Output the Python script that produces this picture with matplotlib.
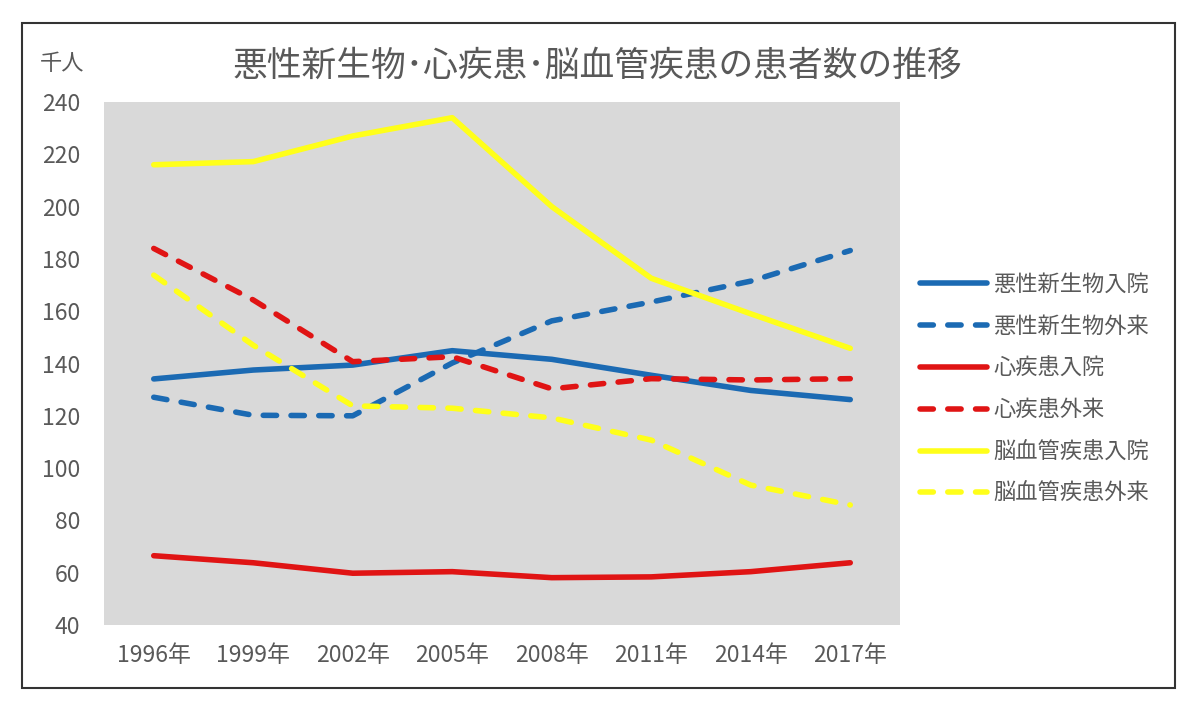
import matplotlib
matplotlib.use("Agg")
import matplotlib.pyplot as plt
from matplotlib.patches import Rectangle

plt.rcParams['font.family'] = ['Noto Sans CJK JP', 'DejaVu Sans']

years = ['1996年', '1999年', '2002年', '2005年', '2008年', '2011年', '2014年', '2017年']

cancer_in = [134.1, 137.5, 139.4, 144.9, 141.6, 135.5, 129.7, 126.2]
cancer_out = [127.1, 120.2, 120.0, 140.2, 156.3, 163.5, 171.5, 183.2]
heart_in = [66.5, 63.8, 59.8, 60.4, 58.1, 58.4, 60.4, 63.8]
heart_out = [184.0, 164.3, 140.7, 142.6, 130.3, 134.2, 133.7, 134.2]
stroke_in = [216.0, 217.2, 227.0, 234.0, 200.0, 172.6, 159.0, 145.8]
stroke_out = [173.8, 147.0, 123.8, 122.9, 119.2, 110.7, 93.5, 85.9]

blue = '#1B6AB3'
red = '#E01414'
yellow = '#FFFF1A'
txt = '#595959'

series = [
    ('悪性新生物入院', cancer_in, blue, '-'),
    ('悪性新生物外来', cancer_out, blue, '--'),
    ('心疾患入院', heart_in, red, '-'),
    ('心疾患外来', heart_out, red, '--'),
    ('脳血管疾患入院', stroke_in, yellow, '-'),
    ('脳血管疾患外来', stroke_out, yellow, '--'),
]

fig = plt.figure(figsize=(12, 7.15), dpi=100)
ax = fig.add_axes([104/1200, 90/715, 796/1200, 523/715])
ax.set_facecolor('#D9D9D9')

x = range(len(years))
for label, vals, col, ls in series:
    if ls == '-':
        ax.plot(x, vals, color=col, lw=4.0, solid_capstyle='round',
                solid_joinstyle='round', label=label)
    else:
        ax.plot(x, vals, color=col, lw=4.0, dashes=(2.4, 2.6),
                dash_capstyle='round', dash_joinstyle='round', label=label)

ax.set_xlim(-0.5, len(years) - 0.5)
ax.set_ylim(40, 240)
ax.set_yticks(range(40, 241, 20))
ax.set_xticks(list(x))
ax.set_xticklabels(years)
for s in ax.spines.values():
    s.set_visible(False)
ax.tick_params(axis='both', length=0, labelsize=16.5, labelcolor=txt)
ax.tick_params(axis='y', pad=17)
ax.tick_params(axis='x', pad=14)

fig.text(0.498, 1 - 66/715, '悪性新生物･心疾患･脳血管疾患の患者数の推移',
         ha='center', va='center', fontsize=25, color=txt)
fig.text(62/1200, 1 - 64/715, '千人', ha='center', va='center',
         fontsize=16, color=txt)

ax.legend(loc='center left', bbox_to_anchor=(920/1200, 1 - 389/715),
          bbox_transform=fig.transFigure, frameon=False, fontsize=16,
          handlelength=3.0, handletextpad=0.3, labelspacing=0.85,
          borderpad=0, borderaxespad=0, labelcolor=txt)

fig.patches.append(Rectangle((22/1200, 27/715), 1153/1200, 665/715,
                             transform=fig.transFigure, fill=False,
                             edgecolor='#333333', lw=1.5))

fig.savefig('out.png', dpi=100)
